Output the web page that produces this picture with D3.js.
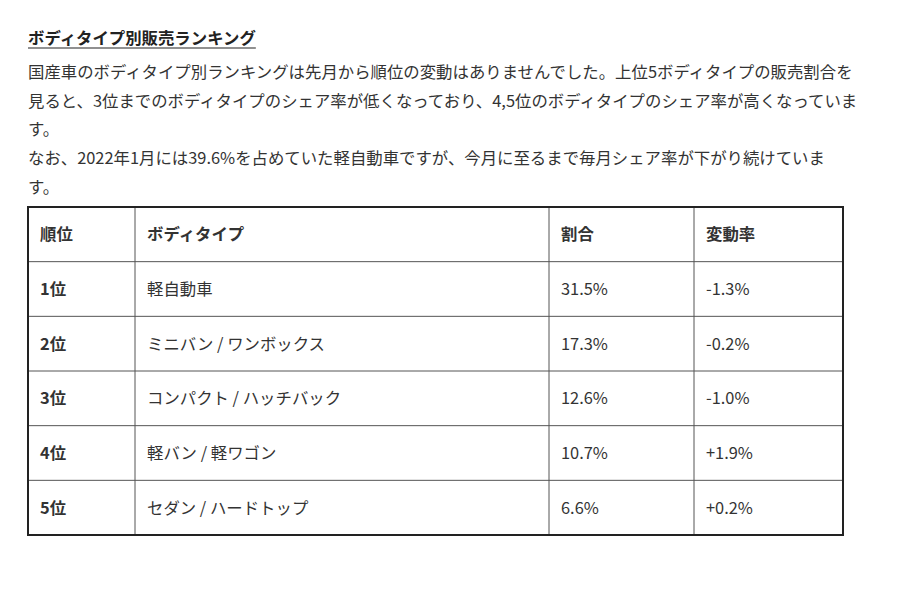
<!DOCTYPE html>
<html><head><meta charset="utf-8">
<script src="https://cdn.jsdelivr.net/npm/d3@7"></script>
<style>body{margin:0;background:#fff;}</style>
</head><body><svg id="c" width="900" height="600"></svg>
<script>
const title = "ボディタイプ別販売ランキング";
const paragraph = [
 "国産車のボディタイプ別ランキングは先月から順位の変動はありませんでした。上位5ボディタイプの販売割合を",
 "見ると、3位までのボディタイプのシェア率が低くなっており、4,5位のボディタイプのシェア率が高くなっていま",
 "す。",
 "なお、2022年1月には39.6%を占めていた軽自動車ですが、今月に至るまで毎月シェア率が下がり続けていま",
 "す。"];
const headers = ["順位","ボディタイプ","割合","変動率"];
const ranks = ["1位","2位","3位","4位","5位"];
const bodyTypes = ["軽自動車","ミニバン / ワンボックス","コンパクト / ハッチバック","軽バン / 軽ワゴン","セダン / ハードトップ"];
const shares = ["31.5%","17.3%","12.6%","10.7%","6.6%"];
const changes = ["-1.3%","-0.2%","-1.0%","+1.9%","+0.2%"];

const svg = d3.select("#c");
const font = "'Noto Sans CJK JP','Noto Sans',sans-serif";
const fs = 16.4;
const t = svg.append("text").attr("x",28).attr("y",44).attr("font-family",font)
 .attr("font-size",fs).attr("font-weight","bold").attr("fill","#222").text(title);
const w = t.node().getComputedTextLength();
svg.append("line").attr("x1",28).attr("x2",28+w).attr("y1",48).attr("y2",48).attr("stroke","#222").attr("stroke-width",1.2);

svg.selectAll("text.p").data(paragraph).join("text").attr("class","p")
 .attr("x",28).attr("y",(d,i)=>78+i*28.7).attr("font-family",font).attr("font-size",fs)
 .attr("fill","#333").text(d=>d);

const cols = [28,135,549,694,843];
const rowsY = d3.scaleLinear().domain([0,6]).range([207,535]);
const data = [headers, ...ranks.map((r,i)=>[r,bodyTypes[i],shares[i],changes[i]])];
const g = svg.append("g");
data.forEach((row,ri)=>{
  row.forEach((cell,ci)=>{
    g.append("text").attr("x",cols[ci]+12).attr("y",(rowsY(ri)+rowsY(ri+1))/2+6)
     .attr("font-family",font).attr("font-size",fs)
     .attr("font-weight",(ri===0||ci===0)?"bold":"normal").attr("fill","#333").text(cell);
  });
});
for(let i=1;i<6;i++) g.append("line").attr("x1",28).attr("x2",843).attr("y1",rowsY(i)).attr("y2",rowsY(i)).attr("stroke","#555").attr("stroke-width",1);
cols.slice(1,4).forEach(x=>g.append("line").attr("x1",x).attr("x2",x).attr("y1",207).attr("y2",535).attr("stroke","#555").attr("stroke-width",1));
g.append("rect").attr("x",28).attr("y",207).attr("width",815).attr("height",328).attr("fill","none").attr("stroke","#222").attr("stroke-width",2);
</script></body></html>
